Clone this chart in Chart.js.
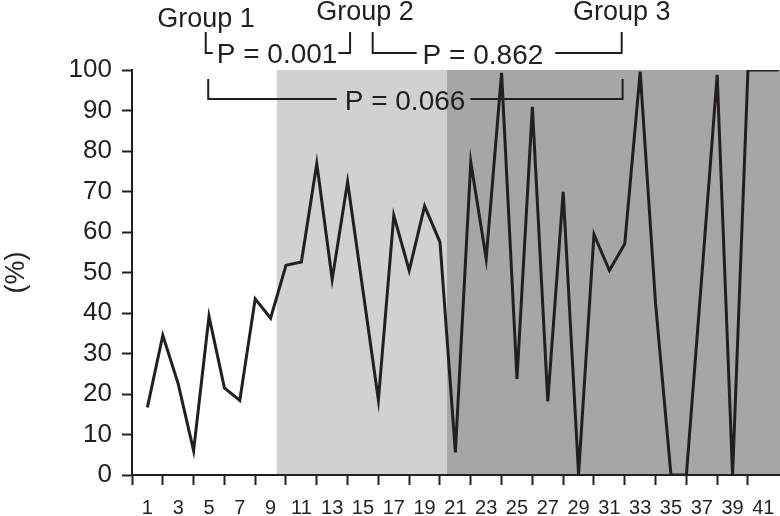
<!DOCTYPE html>
<html>
<head>
<meta charset="utf-8">
<script src="https://cdn.jsdelivr.net/npm/chart.js@4.4.1/dist/chart.umd.min.js"></script>
<style>
  body { margin: 0; background: #fff; }
  #wrap { width: 780px; height: 516px; }
</style>
</head>
<body>
<div id="wrap"><canvas id="myChart"></canvas></div>
<script>
// case number along the x axis, percentage on the y axis
var caseNumbers = [1, 2, 3, 4, 5, 6, 7, 8, 9, 10, 11, 12, 13, 14, 15, 16, 17, 18, 19, 20, 21,
                   22, 23, 24, 25, 26, 27, 28, 29, 30, 31, 32, 33, 34, 35, 36, 37, 38, 39, 40, 41, 42];
var percentValues = [16.7, 34.5, 22.5, 6.0, 39.2, 21.5, 18.4, 43.5, 38.7, 51.8, 52.6, 76.9, 48.3, 72.4,
                     45.5, 18.5, 64.1, 50.5, 66.4, 57.5, 5.6, 77.3, 53.4, 99.3, 23.7, 90.9, 18.2, 69.9,
                     0.2, 59.4, 50.5, 57.1, 99.6, 42.3, 0, 0, 49, 98.8, 0, 100, 100, 100];
var xTickLabels = [1, 3, 5, 7, 9, 11, 13, 15, 17, 19, 21, 23, 25, 27, 29, 31, 33, 35, 37, 39, 41];
var xTickMarks = [0, 2, 4, 6, 8, 10, 12, 14, 16, 18, 20, 22, 24, 26, 28, 30, 32, 34, 36, 38, 40];
var yTickLabels = [0, 10, 20, 30, 40, 50, 60, 70, 80, 90, 100];

// groups: name and where each shaded band starts on the x axis
var groupNames = ["Group 1", "Group 2", "Group 3"];
var groupStarts = [0, 9.4, 20.45];
var pValues = ["P = 0.001", "P = 0.862", "P = 0.066"];

var ink = "#231f20";
var fontName = "'Liberation Sans', Arial, sans-serif";

var points = [];
for (var i = 0; i < caseNumbers.length; i++) {
  points.push({ x: caseNumbers[i], y: percentValues[i] });
}

var groupShading = {
  id: "groupShading",
  beforeDraw: function (chart) {
    var ctx = chart.ctx, xs = chart.scales.x, a = chart.chartArea;
    var fills = ["#ffffff", "#d1d1d1", "#a6a6a6"];
    ctx.save();
    for (var i = 0; i < groupStarts.length; i++) {
      var x0 = xs.getPixelForValue(groupStarts[i]);
      var x1 = i + 1 < groupStarts.length ? xs.getPixelForValue(groupStarts[i + 1]) : chart.width;
      ctx.fillStyle = fills[i];
      ctx.fillRect(x0, a.top, x1 - x0, a.bottom - a.top);
    }
    ctx.restore();
  }
};

var groupLabels = {
  id: "groupLabels",
  afterDraw: function (chart) {
    var ctx = chart.ctx, xs = chart.scales.x;
    function px(v) { return xs.getPixelForValue(v); }
    ctx.save();
    ctx.fillStyle = ink;
    ctx.strokeStyle = ink;
    ctx.lineWidth = 2;
    ctx.textBaseline = "alphabetic";

    // group names
    ctx.font = "27px " + fontName;
    ctx.textAlign = "center";
    var nameAt = [[4.81, 27], [15.13, 20], [31.8, 20]];
    for (var i = 0; i < groupNames.length; i++) {
      ctx.fillText(groupNames[i], px(nameAt[i][0]), nameAt[i][1]);
    }

    // p-value brackets
    ctx.font = "28px " + fontName;
    var br = [
      { from: 4.79, to: 14.16, mid: 9.42, top: 32, line: 53, base: 63, gl: 4, gr: 1 },
      { from: 15.63, to: 31.8, mid: 22.79, top: 32, line: 53, base: 64, gl: 6, gr: 12 },
      { from: 4.95, to: 31.86, mid: 17.73, top: 79, line: 99, base: 110, gl: 8, gr: 5 }
    ];
    for (var j = 0; j < br.length; j++) {
      var b = br[j];
      var xc = px(b.mid), w = ctx.measureText(pValues[j]).width;
      ctx.beginPath();
      ctx.moveTo(px(b.from), b.top);
      ctx.lineTo(px(b.from), b.line);
      ctx.lineTo(xc - w / 2 - b.gl, b.line);
      ctx.moveTo(xc + w / 2 + b.gr, b.line);
      ctx.lineTo(px(b.to), b.line);
      ctx.lineTo(px(b.to), b.top);
      ctx.stroke();
      ctx.fillText(pValues[j], xc, b.base);
    }
    ctx.restore();
  }
};

new Chart("myChart", {
  type: "line",
  data: {
    datasets: [{
      data: points,
      borderColor: ink,
      borderWidth: 3,
      pointRadius: 0,
      tension: 0,
      fill: false
    }]
  },
  options: {
    responsive: true,
    maintainAspectRatio: false,
    animation: false,
    layout: { padding: { top: 70, right: 0, left: 0, bottom: 0 } },
    plugins: {
      legend: { display: false },
      tooltip: { enabled: false }
    },
    scales: {
      x: {
        type: "linear",
        min: 0,
        max: 42.08,
        afterBuildTicks: function (s) {
          var t = [];
          for (var k = 0; k <= 41; k++) t.push({ value: k });
          s.ticks = t;
        },
        afterFit: function (s) {
          s.height = 41;
          s.paddingLeft = 0;
          s.paddingRight = 0;
        },
        grid: {
          drawOnChartArea: false,
          drawTicks: true,
          tickLength: 10,
          tickWidth: 2,
          tickColor: function (c) {
            return xTickMarks.indexOf(c.tick.value) >= 0 ? ink : "rgba(0,0,0,0)";
          }
        },
        border: { display: true, color: ink, width: 2 },
        ticks: {
          autoSkip: false,
          maxRotation: 0,
          padding: 11,
          color: ink,
          font: { family: fontName, size: 20 },
          callback: function (v) {
            return xTickLabels.indexOf(v) >= 0 ? String(v) : "";
          }
        }
      },
      y: {
        min: 0,
        max: 100,
        afterBuildTicks: function (s) {
          s.ticks = yTickLabels.map(function (v) { return { value: v }; });
        },
        afterFit: function (s) {
          s.width = 132;
          s.paddingTop = 0;
          s.paddingBottom = 0;
        },
        grid: {
          drawOnChartArea: false,
          drawTicks: true,
          tickLength: 10,
          tickWidth: 2,
          tickColor: ink
        },
        border: { display: true, color: ink, width: 2 },
        ticks: {
          padding: 10,
          color: ink,
          font: { family: fontName, size: 26 }
        },
        title: {
          display: true,
          text: "(%)",
          color: ink,
          padding: 0,
          font: { family: fontName, size: 27 }
        }
      }
    }
  },
  plugins: [groupShading, groupLabels]
});
</script>
</body>
</html>
